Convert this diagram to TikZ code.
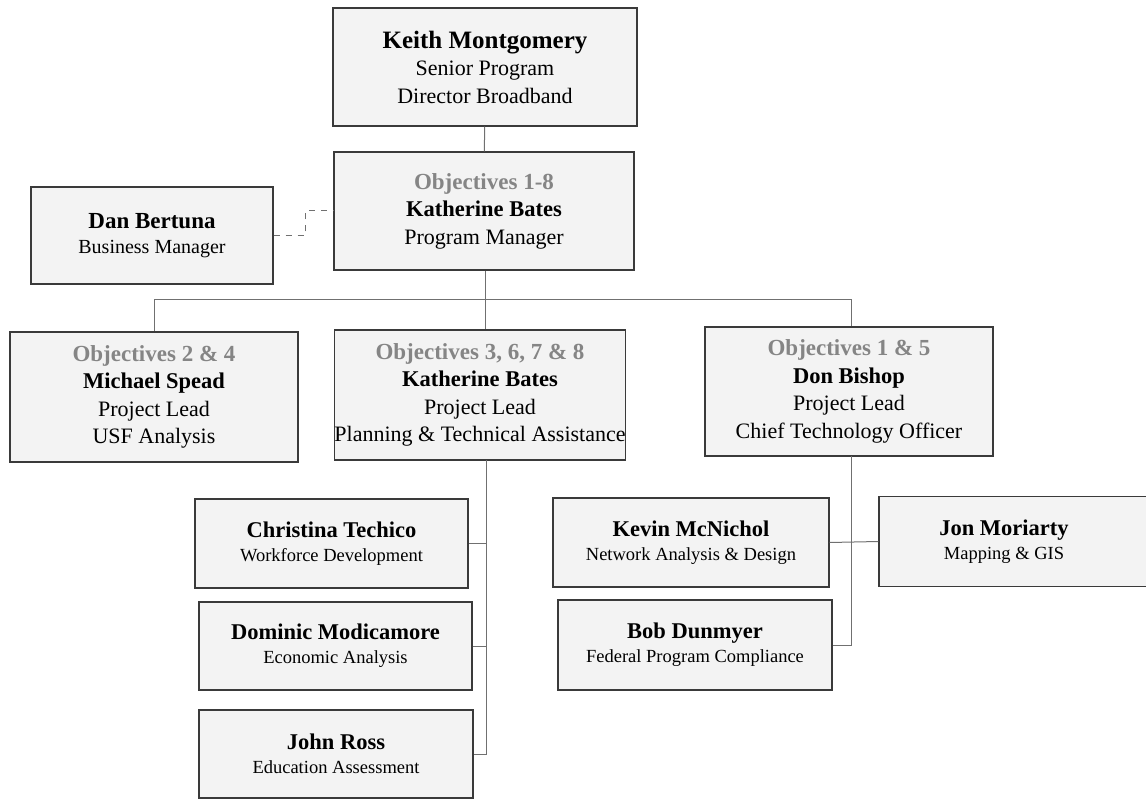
\documentclass[tikz,border=0pt]{standalone}
\usepackage{fontspec}
\setmainfont{Liberation Serif}
\usetikzlibrary{positioning}
\definecolor{boxline}{HTML}{3A3A3A}
\definecolor{boxfill}{HTML}{F3F3F3}
\definecolor{linkgray}{HTML}{707070}
\definecolor{objgray}{HTML}{858585}
\tikzset{
    boxbig/.style = {rectangle, line width=1.2pt, draw=boxline, fill=boxfill, align=center, inner sep=0pt,
                     font=\fontsize{22}{27.5}\selectfont},
    boxsmall/.style = {rectangle, line width=1.2pt, draw=boxline, fill=boxfill, align=center, inner sep=0pt,
                       font=\fontsize{18.5}{24}\selectfont},
    edgen/.style = {line width=1pt, draw=linkgray},
    edged/.style = {line width=1pt, draw=linkgray, dash pattern=on 6pt off 6pt}, % dotted line
}
\newcommand{\obj}[1]{\textcolor{objgray}{\fontsize{23}{27.5}\selectfont\textbf{#1}}}
\newcommand{\who}[2][22.5]{{\fontsize{#1}{27.5}\selectfont\textbf{#2}}}

\begin{document}
\begin{tikzpicture}[x=1pt, y=-1pt]
\useasboundingbox (0, 0) rectangle (1146, 802);
% top two levels
\node[boxbig, minimum width=304pt, minimum height=118pt] at (485, 67) (km)
    {\who[25]{Keith Montgomery}\\Senior Program\\Director Broadband};
\node[boxbig, minimum width=300pt, minimum height=118pt] at (484, 211) (kb)
    {\obj{Objectives 1-8}\\\who{Katherine Bates}\\Program Manager};
\node[boxbig, minimum width=242pt, minimum height=97pt, font=\fontsize{20}{25}\selectfont] at (152, 235.5) (dan)
    {\who[23]{Dan Bertuna}\\Business Manager};
% project leads
\node[boxbig, minimum width=288pt, minimum height=130pt] at (154, 397) (ms)
    {\obj{Objectives 2 \& 4}\\\who{Michael Spead}\\Project Lead\\USF Analysis};
\node[boxbig, minimum width=290pt, minimum height=130pt] at (480, 395) (kbp)
    {\obj{Objectives 3, 6, 7 \& 8}\\\who{Katherine Bates}\\Project Lead\\Planning \& Technical Assistance};
\node[boxbig, minimum width=288pt, minimum height=129pt] at (849, 391.5) (dbi)
    {\obj{Objectives 1 \& 5}\\\who{Don Bishop}\\Project Lead\\Chief Technology Officer};
% staff
\node[boxsmall, minimum width=273pt, minimum height=89pt] at (331.5, 543.5) (ct)
    {\who{Christina Techico}\\Workforce Development};
\node[boxsmall, minimum width=273pt, minimum height=88pt] at (335.5, 646) (dm)
    {\who{Dominic Modicamore}\\Economic Analysis};
\node[boxsmall, minimum width=274pt, minimum height=88pt] at (336, 754) (jr)
    {\who{John Ross}\\Education Assessment};
\node[boxsmall, minimum width=276pt, minimum height=89pt] at (691, 542.5) (kmc)
    {\who{Kevin McNichol}\\Network Analysis \& Design};
\node[boxsmall, minimum width=274pt, minimum height=90pt] at (695, 645) (bd)
    {\who{Bob Dunmyer}\\Federal Program Compliance};
\node[boxsmall, minimum width=282pt, minimum height=90pt] at (1020, 541.5) (jm)
    {\who{Jon Moriarty}\hspace*{32pt}\\Mapping \& GIS\hspace*{32pt}};
%
\coordinate (bus) at (485, 300);
\coordinate (spine) at (486, 460);
\coordinate (dbspine) at (851, 456);
\draw[edgen] (km) -- (kb);
\draw[edgen] (kb.south -| bus) -- (bus) -| (ms.north);
\draw[edgen] (bus) -| (dbi.north -| dbspine);
\draw[edgen] (bus) -- (bus |- kbp.north);
\draw[edged] (dan.east) -- ++(32, 0) |- (kb.west);
\draw[edgen] (spine) |- (ct.east);
\draw[edgen] (spine) |- (dm.east);
\draw[edgen] (spine) |- (jr.east);
\draw[edgen] (dbspine) |- (bd.east);
\draw[edgen] (kmc.east) -- (jm.west);

\end{tikzpicture}
\end{document}
